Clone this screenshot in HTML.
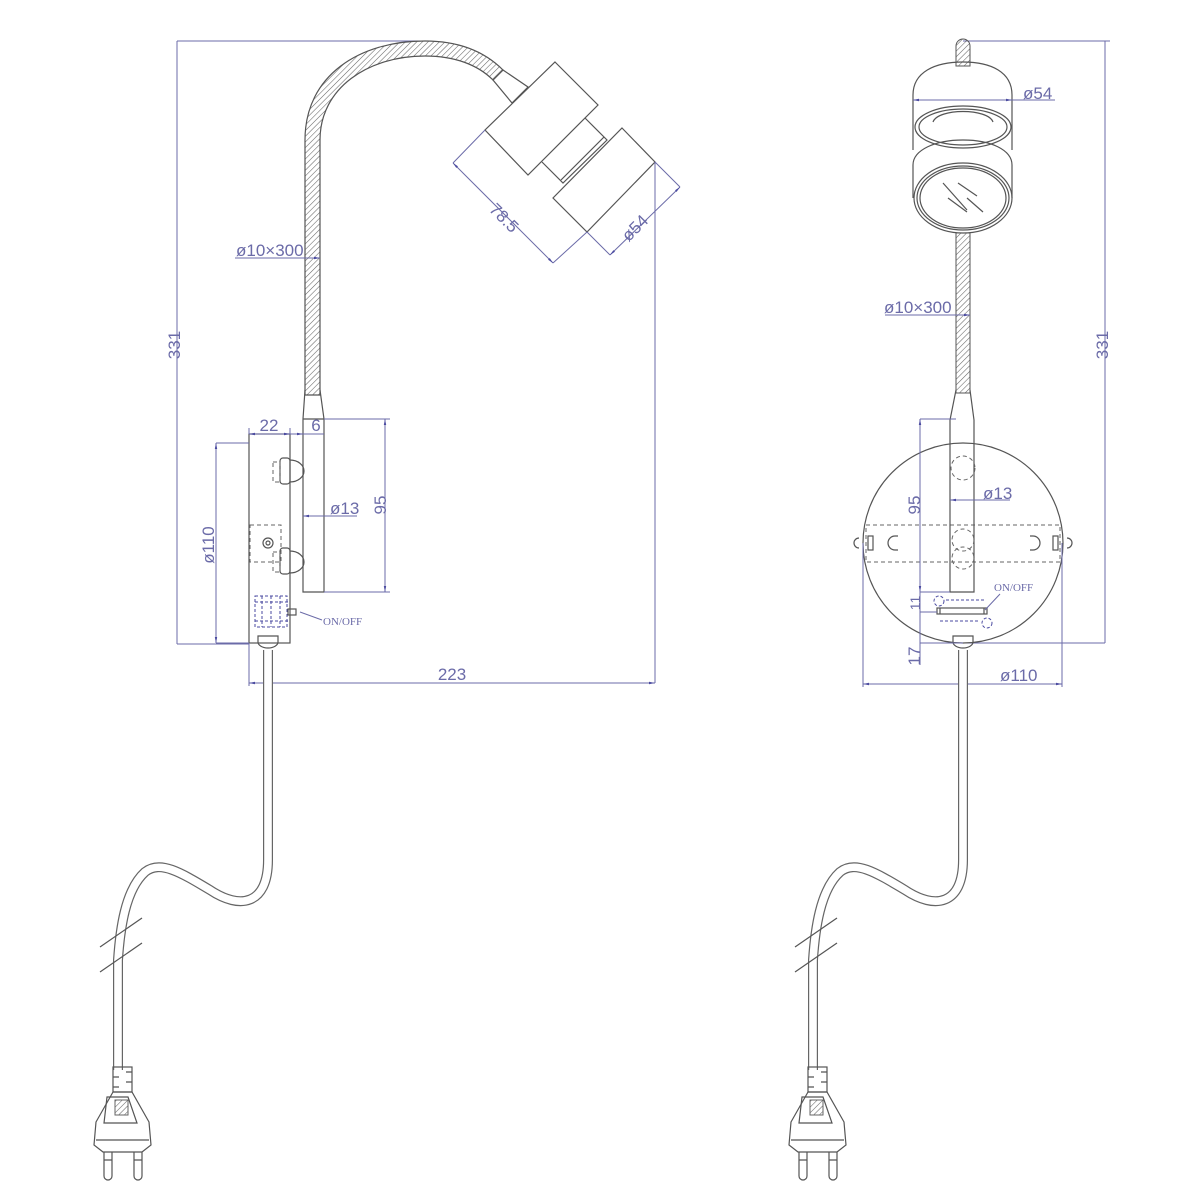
<!DOCTYPE html>
<html><head><meta charset="utf-8"><style>
html,body{margin:0;padding:0;background:#fff;}
svg{display:block;}
text{font-family:"Liberation Sans",sans-serif;fill:#6b6ba8;font-size:17px;}
.l{stroke:#555;stroke-width:1.2;fill:none;}
.d{stroke:#6b6ba8;stroke-width:1;fill:none;}
.dash{stroke:#666;stroke-width:1;fill:none;stroke-dasharray:4 3;}
.bd{stroke:#4a4aa0;stroke-width:1;fill:none;stroke-dasharray:3 2;}
</style></head><body>
<svg width="1200" height="1200" viewBox="0 0 1200 1200" xmlns="http://www.w3.org/2000/svg">
<defs>
<pattern id="h" width="4" height="4" patternUnits="userSpaceOnUse" patternTransform="rotate(45)">
<line x1="0" y1="0" x2="0" y2="4" stroke="#666" stroke-width="1.1"/>
</pattern>
<marker id="a" viewBox="0 0 10 10" refX="10" refY="5" markerWidth="6" markerHeight="6" orient="auto-start-reverse"><path d="M0,3 L10,5 L0,7z" fill="#4a4aa0"/></marker>
<g id="cable">
<path d="M268,650 L268,860 C268,905 240,910 210,890 C180,872 160,860 145,872 C125,890 120,930 118,960 L118,1070" stroke="#666" stroke-width="10" fill="none"/>
<path d="M268,650 L268,860 C268,905 240,910 210,890 C180,872 160,860 145,872 C125,890 120,930 118,960 L118,1070" stroke="#fff" stroke-width="7.6" fill="none"/>
<line x1="100" y1="947" x2="142" y2="918" class="l"/>
<line x1="100" y1="972" x2="142" y2="943" class="l"/>
<rect x="113" y="1067" width="19" height="25" class="l" fill="#fff"/>
<path d="M126,1072 h6 M113,1077 h6 M126,1082 h6 M113,1087 h6" class="l"/>
<path d="M113,1092 L96,1122 L94,1145 L103,1152 L142,1152 L151,1145 L149,1122 L132,1092 Z" class="l" fill="#fff"/>
<path d="M107,1097 L128,1097 L137,1123 L104,1123 Z" class="l"/>
<rect x="115" y="1100" width="13" height="15" fill="url(#h)" stroke="#666"/>
<path d="M96,1140 L149,1140" class="l"/>
<path d="M104,1152 v24 a4,4 0 0 0 8,0 v-24 M134,1152 v24 a4,4 0 0 0 8,0 v-24" class="l" fill="#fff"/>
<path d="M104,1160 h8 M134,1160 h8" class="l"/>
</g>
</defs>

<!-- ===== LEFT VIEW ===== -->
<path d="M177,41 H420 M177,41 V644 M177,644 H249" class="d"/>
<text transform="translate(180,345) rotate(-90)" text-anchor="middle">331</text>
<path d="M305,395 L305,140 C305,75 360,41 425,41 C460,41 485,52 503,70 L493,80 C478,65 455,56 425,56 C368,56 320,88 320,140 L320,395 Z" fill="url(#h)" stroke="#555" stroke-width="1.2"/>
<path d="M503,70 L528,87 L512,103 L493,80 Z" class="l" fill="#fff"/>
<path d="M555,62 L598,105 L528,175 L485,130 Z" class="l" fill="#fff"/>
<path d="M585,118 L607,140 L563,183 L542,162" class="l" fill="#fff"/>
<path d="M604,137 L561,180" class="l"/>
<path d="M622,128 L655,162 L587,232 L553,198 Z" class="l" fill="#fff"/>
<path d="M485,130 L453,163 M587,232 L553,263" class="d"/>
<path d="M453,163 L553,263" class="d" marker-start="url(#a)" marker-end="url(#a)"/>
<text transform="translate(500,222) rotate(45)" text-anchor="middle">78.5</text>
<path d="M587,232 L610,255 M655,162 L680,187" class="d"/>
<path d="M610,255 L680,187" class="d" marker-start="url(#a)" marker-end="url(#a)"/>
<text transform="translate(639,232) rotate(-45)" text-anchor="middle">ø54</text>
<path d="M655,162 V683" class="d"/>
<path d="M235,258 H305" class="d"/><path d="M305,258 H320" class="d" marker-end="url(#a)"/>
<text x="236" y="256">ø10×300</text>
<path d="M305,390 L303,419 V592 H324 V419 L320,390" class="l" fill="#fff"/>
<path d="M303,419 H324" class="l"/>
<rect x="249" y="434" width="41" height="209" class="l" fill="#fff"/>
<path d="M290,460 a14,11 0 0 1 14,11 a14,11 0 0 1 -14,11" class="l" fill="#fff"/>
<path d="M290,551 a14,11 0 0 1 14,11 a14,11 0 0 1 -14,11" class="l" fill="#fff"/>
<rect x="280" y="458" width="10" height="26" rx="3" class="l"/>
<rect x="280" y="548" width="10" height="26" rx="3" class="l"/>
<rect x="273" y="462" width="7" height="20" class="dash"/>
<rect x="273" y="552" width="7" height="20" class="dash"/>
<rect x="250" y="525" width="31" height="37" class="dash"/>
<circle cx="268" cy="543" r="5" class="l"/><circle cx="268" cy="543" r="2" class="l"/>
<rect x="255" y="596" width="32" height="31" class="bd"/>
<path d="M255,602 H288 M255,621 H288 M262,596 V627 M271,596 V627 M280,596 V627" class="bd"/>
<rect x="288" y="609" width="8" height="6" class="l"/>
<path d="M300,612 L322,620" class="d"/>
<text x="323" y="625" style="font-family:'Liberation Serif',serif;font-size:11px">ON/OFF</text>
<path d="M258,636 h20 v6 a10,6 0 0 1 -20,0 z" class="l" fill="#fff"/>
<path d="M249,434 V428 M290,434 V428" class="d"/>
<path d="M249,434 H290" class="d" marker-start="url(#a)" marker-end="url(#a)"/>
<text x="269" y="431" text-anchor="middle">22</text>
<path d="M290,434 H303" class="d" marker-end="url(#a)"/>
<path d="M303,434 H324" class="d"/>
<text x="316" y="431" text-anchor="middle">6</text>
<path d="M324,419 H390 M324,592 H390" class="d"/>
<path d="M385,419 V592" class="d" marker-start="url(#a)" marker-end="url(#a)"/>
<text transform="translate(386,505) rotate(-90)" text-anchor="middle">95</text>
<path d="M303,516 H357" class="d" marker-start="url(#a)"/>
<text x="330" y="514">ø13</text>
<path d="M216,443 H249 M216,643 H249" class="d"/>
<path d="M216,443 V643" class="d" marker-start="url(#a)" marker-end="url(#a)"/>
<text transform="translate(214,545) rotate(-90)" text-anchor="middle">ø110</text>
<path d="M249,643 V686" class="d"/>
<path d="M249,683 H655" class="d" marker-start="url(#a)" marker-end="url(#a)"/>
<text x="452" y="680" text-anchor="middle">223</text>
<use href="#cable"/>

<!-- ===== RIGHT VIEW ===== -->
<path d="M963,41 H1110 M1105,41 V643 M963,643 H1105" class="d"/>
<text transform="translate(1108,345) rotate(-90)" text-anchor="middle">331</text>
<path d="M956,66 V46 a7,7 0 0 1 14,0 V66 Z" fill="url(#h)" stroke="#555"/>
<!-- cap -->
<path d="M913,150 V95 C913,72 935,62 963,62 C991,62 1012,72 1012,95 V150" class="l" fill="#fff"/>
<ellipse cx="963" cy="127" rx="48" ry="21" class="l" fill="#fff"/>
<ellipse cx="963" cy="127" rx="44" ry="18" class="l"/>
<path d="M933,122 C938,108 988,108 993,122" class="l"/>
<!-- front cylinder -->
<path d="M913,198 V165 C913,150 935,140 963,140 C991,140 1012,150 1012,165 V198" class="l" fill="#fff"/>
<ellipse cx="963" cy="198" rx="49" ry="35" class="l" fill="#fff"/>
<ellipse cx="963" cy="198" rx="46" ry="32" class="l"/>
<ellipse cx="963" cy="198" rx="43" ry="30" class="l"/>
<path d="M943,183 L967,210 M958,183 L977,196 M948,198 L967,212 M967,198 L983,212" class="l"/>
<path d="M1012,100 H1055" class="d"/>
<path d="M913,100 H1012" class="d" marker-start="url(#a)" marker-end="url(#a)"/>
<text x="1023" y="99">ø54</text>
<rect x="956" y="233" width="14" height="160" fill="url(#h)" stroke="#555"/>
<path d="M885,315 H956" class="d"/><path d="M956,315 H970" class="d" marker-end="url(#a)"/>
<text x="884" y="313">ø10×300</text>
<circle cx="963" cy="543" r="100" class="l" fill="#fff"/>
<rect x="866" y="525" width="194" height="37" class="dash"/>
<path d="M859,538 a5,5 0 0 0 0,10 M1067,538 a5,5 0 0 1 0,10" class="l"/>
<rect x="868" y="536" width="5" height="14" class="l"/>
<rect x="1053" y="536" width="5" height="14" class="l"/>
<path d="M898,536 h-3 a6,6 0 0 0 0,14 h3 M1030,536 h3 a6,6 0 0 1 0,14 h-3" class="l"/>
<path d="M956,390 L950,420 V592 H974 V420 L970,390" class="l" fill="#fff"/>
<circle cx="963" cy="468" r="12" class="dash"/>
<circle cx="963" cy="540" r="11" class="dash"/>
<circle cx="963" cy="558" r="11" class="dash"/>
<circle cx="939" cy="601" r="5" class="bd"/>
<circle cx="987" cy="623" r="5" class="bd"/>
<path d="M946,600 H985 M940,621 H980" class="bd"/>
<rect x="937" y="608" width="50" height="6" class="l"/>
<path d="M940,608 V614 M984,608 V614" class="l"/>
<path d="M985,610 L1000,594" class="d"/>
<text x="994" y="591" style="font-family:'Liberation Serif',serif;font-size:11px">ON/OFF</text>
<path d="M953,636 h20 v6 a10,6 0 0 1 -20,0 z" class="l" fill="#fff"/>
<path d="M920,419 H956" class="d"/>
<path d="M920,419 V592" class="d" marker-start="url(#a)" marker-end="url(#a)"/>
<text transform="translate(920,505) rotate(-90)" text-anchor="middle">95</text>
<path d="M920,592 H950 M920,612 H937" class="d"/>
<path d="M920,592 V612" class="d"/>
<text transform="translate(920,603) rotate(-90)" text-anchor="middle" style="font-size:14px">11</text>
<path d="M920,612 V665" class="d"/>
<path d="M920,643 H963" class="d"/>
<text transform="translate(920,656) rotate(-90)" text-anchor="middle">17</text>
<path d="M950,500 H1010" class="d" marker-start="url(#a)"/>
<text x="983" y="499">ø13</text>
<path d="M863,543 V687 M1062,543 V687" class="d"/>
<path d="M863,684 H1062" class="d" marker-start="url(#a)" marker-end="url(#a)"/>
<text x="1000" y="681">ø110</text>
<g transform="translate(695,0)"><use href="#cable"/></g>
</svg>
</body></html>
